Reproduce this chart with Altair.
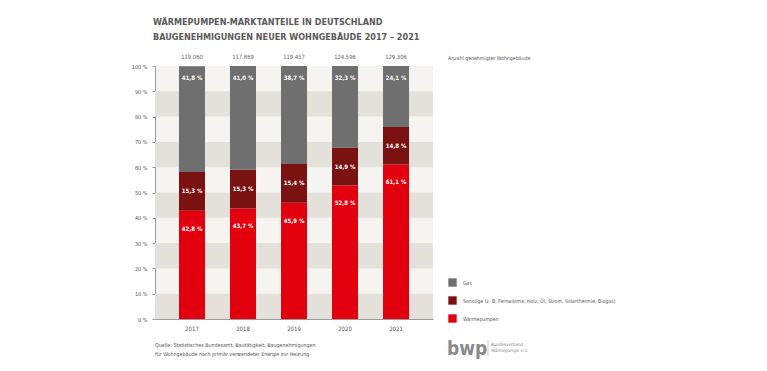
import altair as alt
import pandas as pd

years = ["2017", "2018", "2019", "2020", "2021"]
totals = ["119.060", "117.869", "119.457", "124.596", "129.306"]
waermepumpen = [42.8, 43.7, 45.9, 52.8, 61.1]
sonstige = [15.3, 15.3, 15.4, 14.9, 14.8]
gas = [41.8, 41.0, 38.7, 32.3, 24.1]

categories = ["Gas", "Sonstige (z. B. Fernwärme, Holz, Öl, Strom, Solarthermie, Biogas)", "Wärmepumpen"]
colors = ["#6f6f6f", "#7a1212", "#e2000f"]

title_lines = ["WÄRMEPUMPEN-MARKTANTEILE IN DEUTSCHLAND", "BAUGENEHMIGUNGEN NEUER WOHNGEBÄUDE 2017 – 2021"]
totals_title = "Anzahl genehmigter Wohngebäude"
source_lines = ["Quelle: Statistisches Bundesamt, Bautätigkeit, Baugenehmigungen",
                "für Wohngebäude nach primär verwendeter Energie zur Heizung"]
logo_text = "bwp"
logo_sub = ["Bundesverband", "Wärmepumpe e.V."]

band_lo = [0, 20, 40, 60, 80]
band_hi = [10, 30, 50, 70, 90]
y_ticks = [0, 10, 20, 30, 40, 50, 60, 70, 80, 90, 100]

FONT = "DejaVu Sans Condensed, Roboto, sans-serif"
W, H = 278, 253


def fmt(v):
    return f"{v:.1f}".replace(".", ",") + " %"


rows = []
for i, y in enumerate(years):
    base = 0.0
    for cat, vals, order in [(categories[2], waermepumpen, 0), (categories[1], sonstige, 1), (categories[0], gas, 2)]:
        v = vals[i]
        rows.append({"Jahr": y, "Kategorie": cat, "wert": v, "ord": order,
                     "lo": base, "hi": base + v, "mid": base + v / 2, "label": fmt(v)})
        base += v
df = pd.DataFrame(rows)

bands = pd.DataFrame({"lo": band_lo, "hi": band_hi})
tot = pd.DataFrame({"Jahr": years, "total": totals})

xscale = alt.Scale(domain=years, paddingInner=0.49, paddingOuter=0.47)
yscale = alt.Scale(domain=[0, 100], nice=False)
cscale = alt.Scale(domain=categories, range=colors)

yaxis = alt.Axis(title=None, values=y_ticks, labelExpr="datum.value + ' %'",
                 tickSize=3, tickColor="#9a9a9a", domainColor="#9a9a9a", grid=False,
                 labelOverlap=False,
                 labelFontSize=5.5, labelColor="#555", labelFont=FONT, labelPadding=5)
xaxis = alt.Axis(title=None, labelAngle=0, ticks=False, domainColor="#9a9a9a",
                 labelFontSize=6, labelColor="#555", labelFont=FONT, labelPadding=6)

band_layer = alt.Chart(bands).mark_rect(color="#e4e1db").encode(
    x=alt.value(0), x2=alt.value(W),
    y=alt.Y("lo:Q", scale=yscale, axis=yaxis), y2="hi:Q",
)

bars = alt.Chart(df).mark_bar().encode(
    x=alt.X("Jahr:N", scale=xscale, axis=xaxis),
    y=alt.Y("lo:Q", scale=yscale, axis=yaxis),
    y2="hi:Q",
    color=alt.Color("Kategorie:N", scale=cscale,
                    legend=alt.Legend(title=None, orient="none", legendX=293, legendY=212,
                                      symbolType="square", symbolSize=70, symbolStrokeWidth=0,
                                      labelFontSize=5.2, labelColor="#555", labelFont=FONT,
                                      rowPadding=9, labelOffset=6, padding=0, labelLimit=400)),
)


def seg_labels(sub, field, dy):
    return alt.Chart(sub).mark_text(color="white", fontWeight="bold", fontSize=6, font=FONT, dy=dy).encode(
        x=alt.X("Jahr:N", scale=xscale, axis=xaxis),
        y=alt.Y(field + ":Q", scale=yscale, axis=yaxis),
        text="label:N")


lab_wp = seg_labels(df[df.ord == 0], "hi", 18)
lab_so = seg_labels(df[df.ord == 1], "mid", 0)
lab_gas = seg_labels(df[df.ord == 2], "hi", 12)

tot_layer = alt.Chart(tot).mark_text(color="#666", fontSize=5.8, font=FONT).encode(
    x=alt.X("Jahr:N", scale=xscale, axis=xaxis), y=alt.value(-9), text="total:N")


def txt(t, x, y, **kw):
    return alt.Chart(pd.DataFrame({"t": [t]})).mark_text(align="left", baseline="alphabetic", font=FONT, **kw).encode(
        x=alt.value(x), y=alt.value(y), text="t:N")


annos = [
    txt(title_lines[0], -2, -41, fontSize=9, fontWeight="bold", color="#5a5a5a"),
    txt(title_lines[1], -2, -26, fontSize=9, fontWeight="bold", color="#5a5a5a"),
    txt(totals_title, 293, -6, fontSize=5.2, color="#555"),
    txt(source_lines[0], 0, 281, fontSize=5.3, color="#555"),
    txt(source_lines[1], 0, 290, fontSize=5.3, color="#555"),
    txt(logo_text, 292, 289, fontSize=19, fontWeight="bold", color="#8a8a8a"),
    txt(logo_sub[0], 336, 280, fontSize=4.5, color="#888"),
    txt(logo_sub[1], 336, 286, fontSize=4.5, color="#888"),
]

sep = alt.Chart(pd.DataFrame({"a": [0]})).mark_rule(color="#aaa", strokeWidth=0.6).encode(
    x=alt.value(333), y=alt.value(274), y2=alt.value(290))

chart = alt.layer(band_layer, bars, lab_wp, lab_so, lab_gas, tot_layer, *annos, sep).properties(
    width=W, height=H,
    autosize=alt.AutoSizeParams(type="none"),
    padding={"left": 147, "top": 58, "right": 320, "bottom": 40},
    background="white",
).configure_view(fill="#f5f4f0", stroke=None)

chart.save("out.html", embed_options={"renderer": "svg", "actions": False})
